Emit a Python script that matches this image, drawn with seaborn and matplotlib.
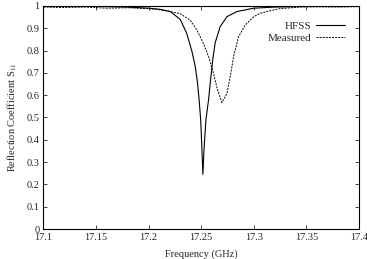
import pandas as pd
import matplotlib
matplotlib.use("Agg")
import matplotlib.pyplot as plt
import seaborn as sns

# HFSS simulation
hfss_freq = [17.10, 17.15, 17.18, 17.20, 17.211, 17.2206, 17.230, 17.236, 17.241,
             17.2443, 17.2465, 17.248, 17.2495, 17.2505, 17.2516, 17.2527, 17.2545,
             17.257, 17.2586, 17.261, 17.2633, 17.268, 17.2745, 17.284, 17.30,
             17.32, 17.35, 17.40]
hfss_s11 = [1.0, 0.998, 0.995, 0.99, 0.985, 0.975, 0.94, 0.88, 0.80,
            0.73, 0.655, 0.58, 0.49, 0.38, 0.245, 0.36, 0.49,
            0.58, 0.655, 0.76, 0.835, 0.907, 0.952, 0.975, 0.99,
            0.995, 0.998, 1.0]

# measured data
meas_freq = [17.10, 17.12, 17.14, 17.16, 17.18, 17.20, 17.21, 17.2205, 17.230,
             17.2395, 17.2459, 17.252, 17.257, 17.2617, 17.2655, 17.2697, 17.2745,
             17.2776, 17.2808, 17.2855, 17.292, 17.30, 17.306, 17.315, 17.325,
             17.344, 17.36, 17.38, 17.40]
meas_s11 = [0.995, 0.993, 0.995, 0.99, 0.992, 0.988, 0.983, 0.975, 0.965,
            0.937, 0.892, 0.833, 0.773, 0.698, 0.624, 0.567, 0.608,
            0.683, 0.773, 0.862, 0.915, 0.952, 0.967, 0.978, 0.988,
            0.995, 0.996, 0.995, 0.997]

x_ticks = [17.1, 17.15, 17.2, 17.25, 17.3, 17.35, 17.4]
x_labels = ["17.1", "17.15", "17.2", "17.25", "17.3", "17.35", "17.4"]
y_ticks = [0, 0.1, 0.2, 0.3, 0.4, 0.5, 0.6, 0.7, 0.8, 0.9, 1]
y_labels = ["0", "0.1", "0.2", "0.3", "0.4", "0.5", "0.6", "0.7", "0.8", "0.9", "1"]


def main():
    sns.set_style("ticks")
    plt.rcParams["font.family"] = ["Liberation Serif", "DejaVu Serif"]
    plt.rcParams["mathtext.fontset"] = "stix"

    fig = plt.figure(figsize=(3.67, 2.59), dpi=100)
    ax = fig.add_axes([0.1185, 0.1158, 0.8595, 0.8612])

    hfss = pd.DataFrame({"f": hfss_freq, "s": hfss_s11})
    meas = pd.DataFrame({"f": meas_freq, "s": meas_s11})

    sns.lineplot(data=hfss, x="f", y="s", ax=ax, color="black", lw=0.8,
                 label="HFSS", sort=False)
    sns.lineplot(data=meas, x="f", y="s", ax=ax, color="black", lw=0.7,
                 linestyle=(0, (2, 1.2)), label="Measured", sort=False)

    ax.set_xlim(17.1, 17.4)
    ax.set_ylim(0, 1)
    ax.set_xticks(x_ticks)
    ax.set_xticklabels(x_labels)
    ax.set_yticks(y_ticks)
    ax.set_yticklabels(y_labels)
    ax.tick_params(direction="in", top=True, right=True, labelsize=7.5,
                   length=3, width=0.6, pad=3)
    for sp in ax.spines.values():
        sp.set_linewidth(0.8)
        sp.set_color("black")

    ax.set_xlabel("Frequency (GHz)", fontsize=7.5, labelpad=5)
    ax.set_ylabel("Reflection Coefficient S$_{11}$", fontsize=7.5, labelpad=5)

    ax.legend(loc="upper right", frameon=False, markerfirst=False, fontsize=8,
              handlelength=2.6, handletextpad=0.4, labelspacing=0.15,
              borderpad=0, borderaxespad=0, bbox_to_anchor=(0.956, 0.93))

    fig.savefig("out.png", dpi=100)
    plt.close(fig)


if __name__ == "__main__":
    main()
